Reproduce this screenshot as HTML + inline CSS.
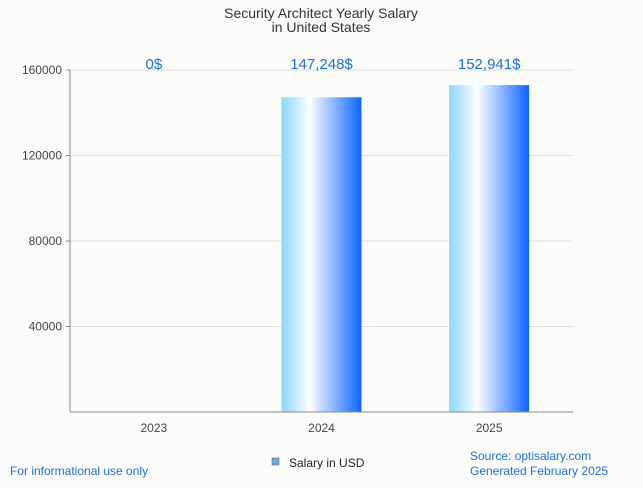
<!DOCTYPE html>
<html><head><meta charset="utf-8"><style>
body{margin:0;background:#fcfcfa;font-family:"Liberation Sans",sans-serif}
svg text{font-family:"Liberation Sans",sans-serif}
</style></head><body>
<svg width="643" height="483">
<defs><linearGradient id="bg" x1="0" x2="1" y1="0" y2="0">
<stop offset="0" stop-color="#8ad6ff"/><stop offset="0.35" stop-color="#ffffff"/><stop offset="1" stop-color="#0a64ff"/></linearGradient></defs>
<rect width="643" height="483" fill="#fcfcfa"/>
<text x="321" y="18" text-anchor="middle" font-size="14" fill="#333">Security Architect Yearly Salary</text>
<text x="321" y="32" text-anchor="middle" font-size="14" fill="#333">in United States</text>
<g id="grid"></g><g id="bars"></g><g id="labels"></g>
<line x1="70" y1="70" x2="70" y2="412" stroke="#888"/>
<line x1="70" y1="412" x2="573" y2="412" stroke="#888"/>
<rect x="272" y="458" width="7" height="7" fill="#6fa8e0" stroke="#555" stroke-width="0.5"/>
<text x="289" y="467" font-size="12" fill="#222">Salary in USD</text>
<text x="10" y="475" font-size="12" fill="#1a6fe8">For informational use only</text>
<text x="470" y="460" font-size="12" fill="#1a6fe8">Source: optisalary.com</text>
<text x="470" y="475" font-size="12" fill="#1a6fe8">Generated February 2025</text>
</svg>
<script>
const categories=["2023","2024","2025"];
const salaries=[0,147248,152941];
const valueLabels=["0$","147,248$","152,941$"];
const yTicks=[40000,80000,120000,160000];
const ns="http://www.w3.org/2000/svg";
const x0=70,x1=573,yTop=70,yBot=412,yMax=160000;
const band=(x1-x0)/categories.length;
const y=v=>yBot-(v/yMax)*(yBot-yTop);
const xc=i=>x0+band*(i+0.5);
function mk(t,a,p){const e=document.createElementNS(ns,t);for(const k in a)e.setAttribute(k,a[k]);p.appendChild(e);return e;}
const g=document.getElementById('grid'),b=document.getElementById('bars'),l=document.getElementById('labels');
yTicks.forEach(v=>{
 const ln=mk('line',{x1:66,x2:x1,y1:y(v),y2:y(v),stroke:'#e0e0e0'},g);
 
 
 const tk=mk('line',{x1:66,x2:70,y1:y(v),y2:y(v),stroke:'#888'},g);
 
 
 const t=mk('text',{x:62,y:y(v)+4,'text-anchor':'end','font-size':12,fill:'#444'},g);
 t.textContent=v;
 
 
});
categories.forEach((c,i)=>{
 if(salaries[i]>0){
  const r=mk('rect',{x:xc(i)-40,y:y(salaries[i]),width:80,height:yBot-y(salaries[i]),fill:'url(#bg)'},b);
  
  
 }
 const t=mk('text',{x:xc(i),y:427+5,'text-anchor':'middle','font-size':12,fill:'#444'},l);
 t.textContent=c;
 
 
 const v=mk('text',{x:xc(i),y:69,'text-anchor':'middle','font-size':15,fill:'#1a6fe8'},l);
 v.textContent=valueLabels[i];
 
 
});
</script>
</body></html>
